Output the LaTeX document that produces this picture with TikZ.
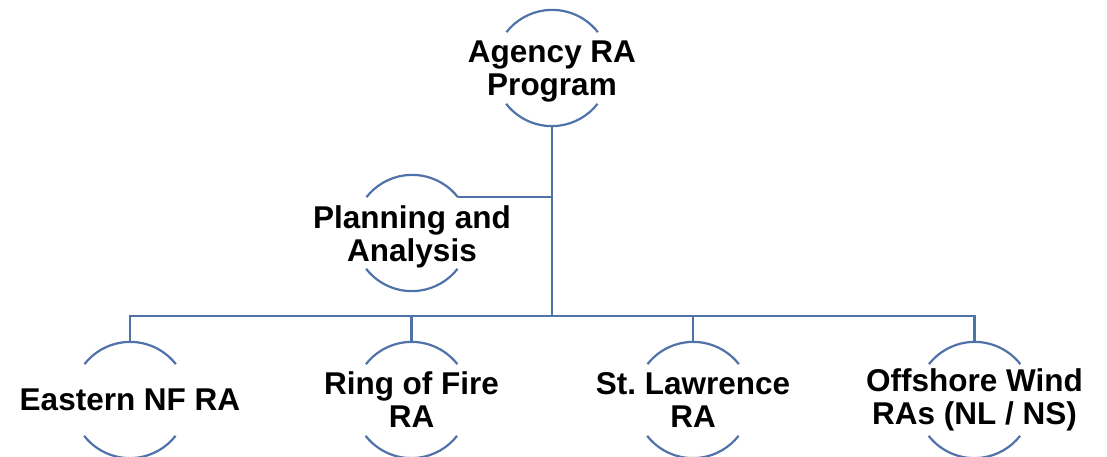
\documentclass[tikz,border=0pt]{standalone}
\usepackage{fontspec}
\setmainfont{Liberation Sans}
\usetikzlibrary{positioning}
\definecolor{ringblue}{HTML}{4F72A8}
\frenchspacing

\begin{document}
\begin{tikzpicture}[x=1pt, y=1pt,
    ring/.style={circle, minimum size=116pt, inner sep=0pt},
    txt/.style={align=center, font=\bfseries\fontsize{31.5}{33}\selectfont, inner sep=0pt},
    txttwo/.style={txt, yshift=-4pt},
    wire/.style={draw=ringblue, line width=2.2pt}]
			\useasboundingbox (0,0) rectangle (1107,456);

			% Rings (only used for their anchors)
			\node[ring] (agency) at (552,388) {};
			\node[ring] (planning) at (412,223) {};
			\node[ring] (eastern) at (130,56) {};
			\node[ring] (ringfire) at (411.5,56) {};
			\node[ring] (lawrence) at (693,56) {};
			\node[ring] (offshore) at (974.5,56) {};

			% Labels
			\node[txttwo] (agencyT) at (agency) {Agency RA\\Program};
			\node[txttwo] (planningT) at (planning) {Planning and\\Analysis};
			\node[txt] (easternT) at (eastern) {Eastern NF RA};
			\node[txt] (ringfireT) at (ringfire) {Ring of Fire\\RA};
			\node[txt] (lawrenceT) at (lawrence) {St. Lawrence\\RA};
			\node[txt] (offshoreT) at (offshore) {Offshore Wind\\RAs (NL / NS)};

			% Draw the upper and lower arcs of every ring
			\draw[wire] (agency.38) arc (38:142:58pt);
			\draw[wire] (agency.218) arc (218:322:58pt);
			\draw[wire] (planning.38) arc (38:142:58pt);
			\draw[wire] (planning.218) arc (218:322:58pt);
			\draw[wire] (eastern.38) arc (38:142:58pt);
			\draw[wire] (eastern.218) arc (218:322:58pt);
			\draw[wire] (ringfire.38) arc (38:142:58pt);
			\draw[wire] (ringfire.218) arc (218:322:58pt);
			\draw[wire] (lawrence.38) arc (38:142:58pt);
			\draw[wire] (lawrence.218) arc (218:322:58pt);
			\draw[wire] (offshore.38) arc (38:142:58pt);
			\draw[wire] (offshore.218) arc (218:322:58pt);

			% Draw the connectors
			\coordinate (bus) at (552,140);
			\draw[wire] (agency.south) -- (bus);
			\draw[wire] (planning.38) -- (planning.38 -| agency.south);
			\draw[wire] (eastern.north) |- (bus) -| (offshore.north);
			\draw[wire] (ringfire.north) -- (ringfire.north |- bus);
			\draw[wire] (lawrence.north) -- (lawrence.north |- bus);

		\end{tikzpicture}
\end{document}
